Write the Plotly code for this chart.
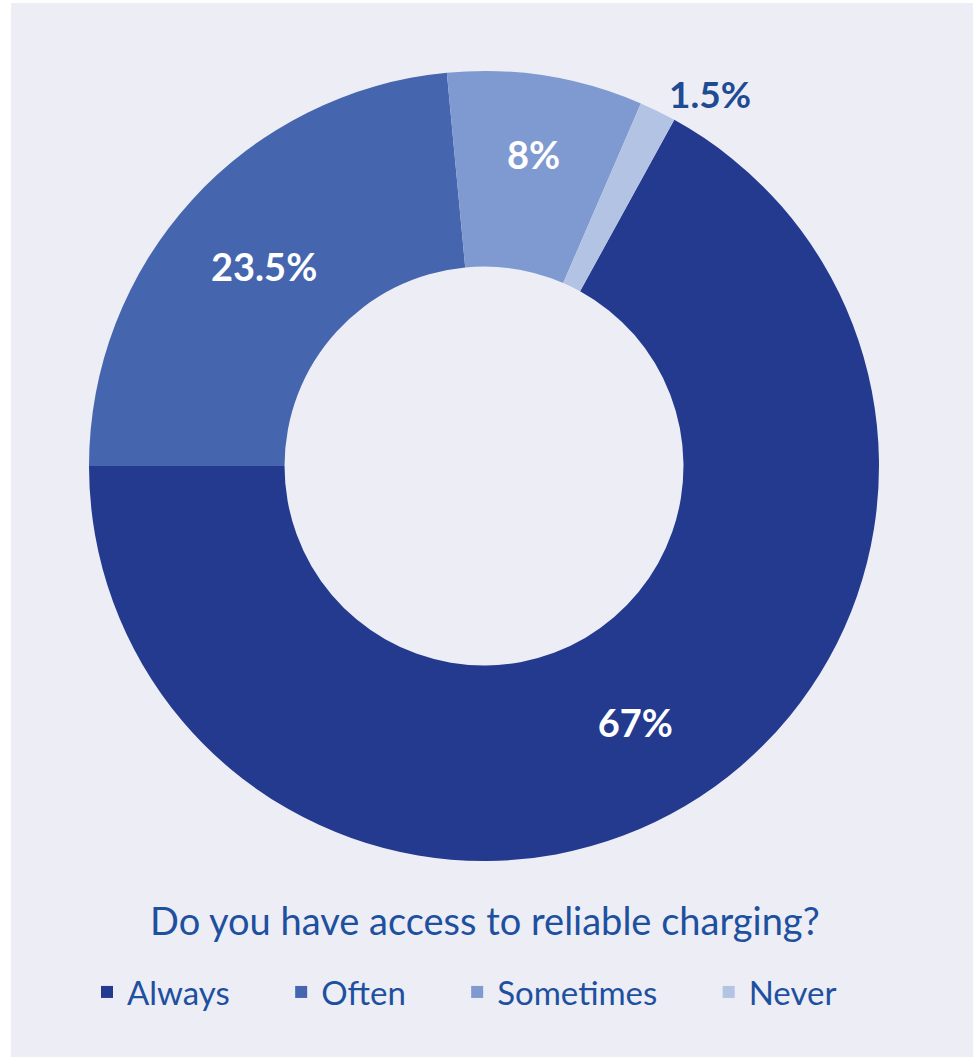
import plotly.graph_objects as go

labels = ["Always", "Often", "Sometimes", "Never"]
values = [67, 23.5, 8, 1.5]
colors = ["#233A8F", "#4566AE", "#7F9AD0", "#B3C3E4"]
text_positions = ["inside", "inside", "inside", "outside"]
title_text = "Do you have access to reliable charging?"

W, H = 973, 1057
BG = "#EDEDF6"
TXT = "#1E50A0"
PAD = "\u00a0" * 5 + "\u2009"  # extra spacing between legend entries

fig = go.Figure()
fig.add_trace(go.Pie(
    labels=[l + PAD for l in labels],
    values=values,
    sort=False,
    direction="clockwise",
    rotation=28.8,
    hole=0.505,
    marker=dict(colors=colors, line=dict(width=0)),
    texttemplate="%{value}%",
    textposition=text_positions,
    insidetextorientation="horizontal",
    insidetextfont=dict(family="Lato", size=38, color="white", weight="bold"),
    outsidetextfont=dict(family="Lato", size=37, color="#1F4A94", weight="bold"),
    domain=dict(x=[89 / W, 879 / W], y=[(H - 861) / H, (H - 71) / H]),
    hoverinfo="percent",
    automargin=False,
))

fig.add_annotation(
    text=title_text, xref="paper", yref="paper", x=485 / W, y=(H - 920) / H,
    xanchor="center", yanchor="middle", showarrow=False,
    font=dict(family="Lato", size=38, color=TXT),
)

fig.add_shape(type="rect", xref="paper", yref="paper", x0=0, x1=11 / W, y0=0, y1=1,
              fillcolor="white", line=dict(width=0), layer="below")
fig.add_shape(type="rect", xref="paper", yref="paper", x0=0, x1=1, y0=(H - 3) / H, y1=1,
              fillcolor="white", line=dict(width=0), layer="below")

fig.update_layout(
    width=W, height=H,
    margin=dict(l=0, r=0, t=0, b=0),
    paper_bgcolor=BG, plot_bgcolor=BG,
    showlegend=True,
    legend=dict(
        orientation="h", x=87 / W, xanchor="left", y=(H - 992) / H, yanchor="middle",
        font=dict(family="Lato", size=33, color=TXT),
        bgcolor="rgba(0,0,0,0)", itemclick=False, itemdoubleclick=False,
    ),
)

fig.write_html("out.html")
